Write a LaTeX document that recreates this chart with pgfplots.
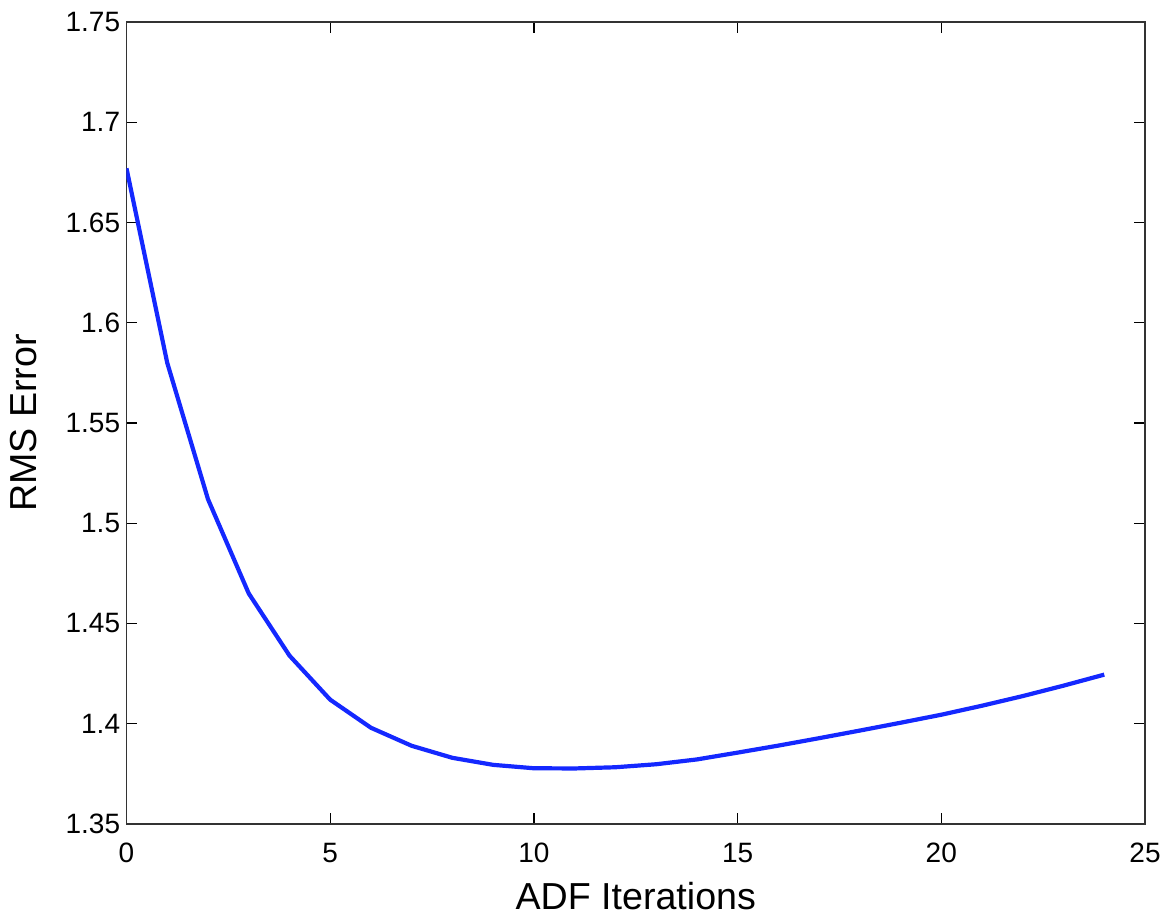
\documentclass[border=0pt]{standalone}
\usepackage{pgfplots}
\pgfplotsset{compat=1.18}
\usepackage{fontspec}
\setmainfont{Liberation Sans}
\usetikzlibrary{calc}
\definecolor{lineblue}{RGB}{20,40,255}

\begin{document}
\begin{tikzpicture}
\begin{axis}[
    name=ax,
    scale only axis,
    width=509.25pt, height=401pt,
    xmin=0, xmax=25, ymin=1.35, ymax=1.75,
    xtick={0,5,...,25},
    ytick={1.35,1.4,...,1.75},
    tick align=inside,
    major tick length=5.3pt,
    axis line style={line width=0.8pt, black!80},
    every tick/.style={black, line width=0.7pt},
    /pgf/number format/assume math mode=true,
    yticklabel style={/pgf/number format/fixed, /pgf/number format/precision=2,
        font=\fontsize{14}{16}\selectfont, inner sep=0pt, xshift=-3pt},
    xticklabel style={font=\fontsize{14}{16}\selectfont, inner sep=0pt, yshift=-9.5pt},
    xlabel={ADF Iterations},
    ylabel={RMS Error},
    xlabel style={font=\fontsize{18.8}{21}\selectfont, at={(axis description cs:0.5,-0.1072)}, anchor=base},
    ylabel style={font=\fontsize{18.8}{21}\selectfont, at={(axis description cs:-0.0879,0.5)}, anchor=base},
]
\addplot[lineblue, line width=2.1pt, line join=round] coordinates {
    (0,1.677) (1,1.580) (2,1.512) (3,1.465) (4,1.434) (5,1.412)
    (6,1.398) (7,1.389) (8,1.383) (9,1.3795) (10,1.3778) (11,1.3777)
    (12,1.3783) (13,1.3798) (14,1.3822) (15,1.3856) (16,1.3891)
    (17,1.3928) (18,1.3966) (19,1.4005) (20,1.4045) (21,1.4090)
    (22,1.4138) (23,1.4190) (24,1.4245)
};
\end{axis}
\pgfresetboundingbox
\path ($(ax.south west)+(-63.25pt,-47.5pt)$) rectangle ($(ax.north east)+(15pt,11pt)$);
\end{tikzpicture}
\end{document}
